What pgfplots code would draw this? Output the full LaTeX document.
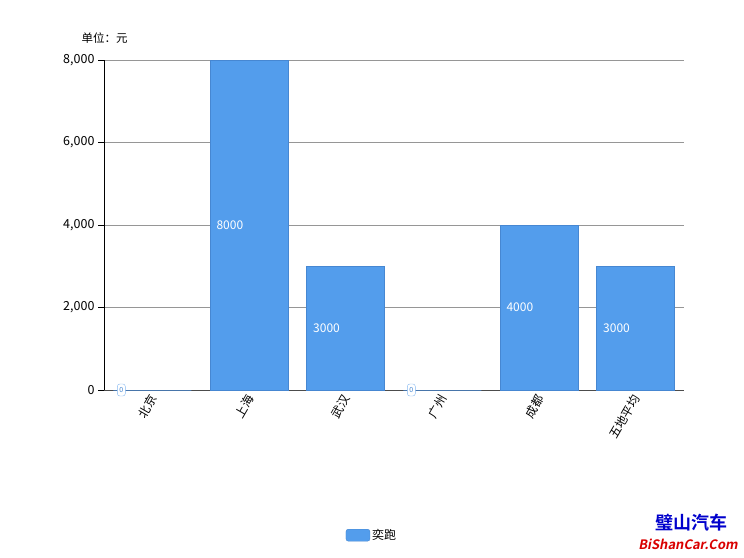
\documentclass[border=0pt]{standalone}
\usepackage{pgfplots}
\pgfplotsset{compat=1.18}
\usepackage{fontspec}
\setmainfont{Noto Sans CJK SC}
\newfontfamily\cjkb{Noto Sans CJK SC}[BoldFont=* Bold]
\definecolor{barblue}{RGB}{83,157,236}
\definecolor{barline}{RGB}{70,135,210}
\definecolor{gridgray}{RGB}{150,150,150}
\begin{document}
\begin{tikzpicture}[x=1pt,y=1pt]
\useasboundingbox (0,0) rectangle (744,557);
\begin{axis}[
  at={(104pt,167pt)}, anchor=south west,
  scale only axis, width=580pt, height=330pt,
  xmin=-0.5, xmax=5.5, ymin=0, ymax=8000,
  ybar, bar width=78pt,
  axis lines*=left,
  axis line style={-},
  x axis line style={draw=black!70, line width=0.9pt},
  y axis line style={draw=black, line width=0.8pt},
  xtick={0,1,2,3,4,5},
  xticklabels={北京,上海,武汉,广州,成都,五地平均},
  xtick style={draw=none},
  xticklabel style={rotate=60, anchor=east, font=\fontsize{12}{14}\selectfont, yshift=-1pt, xshift=4pt},
  ytick={0,2000,4000,6000,8000},
  ytick style={draw=black, line width=0.6pt},
  tick align=outside, major tick length=6pt,
  yticklabel style={font=\fontsize{12.5}{14}\selectfont},
  /pgf/number format/.cd, 1000 sep={,}, assume math mode=true,
  /pgfplots/.cd,
  ymajorgrids, grid style={gridgray, line width=0.7pt},
  legend style={at={(0.462,-0.44)}, anchor=center, draw=none, font=\fontsize{12}{14}\selectfont},
  legend image code/.code={\draw[fill=barblue, draw=barline, rounded corners=2.5pt] (0pt,-6pt) rectangle (24pt,6pt);},
  clip=false,
]
\addplot[fill=barblue, draw=barline, line width=0.4pt] coordinates {(0,0) (1,8000) (2,3000) (3,0) (4,4000) (5,3000)};
\addlegendentry{奕跑}
% labels inside bars (positioned at mid-height of each bar)
\addplot[only marks, mark=none, forget plot,
  nodes near coords, point meta=explicit symbolic,
  every node near coord/.style={anchor=west, xshift=-36pt, text=white, font=\fontsize{12}{14}\selectfont}]
  table[meta=lab] {
x y lab
1 4000 8000
2 1500 3000
4 2000 4000
5 1500 3000
};
% zero labels
\addplot[only marks, mark=none, forget plot,
  nodes near coords, point meta=explicit symbolic,
  every node near coord/.style={anchor=center, xshift=-31pt, text=barline, draw=barblue!70, fill=white, rounded corners=2.5pt, inner sep=1pt, minimum width=8pt, minimum height=12pt, font=\fontsize{7}{8}\selectfont}]
  table[meta=lab] {
x y lab
0 0 0
3 0 0
};
\end{axis}
\node[anchor=west, font=\fontsize{11.5}{13}\selectfont] at (78,519) {单位：元};
\node[anchor=center, text=blue!80!black, font=\cjkb\bfseries\fontsize{18}{19}\selectfont] at (691,34) {璧山汽车};
\node[anchor=center, text=red!85!black, font=\cjkb\bfseries\fontsize{13}{14}\selectfont, xslant=0.2] at (689,13) {BiShanCar.Com};
\end{tikzpicture}
\end{document}
